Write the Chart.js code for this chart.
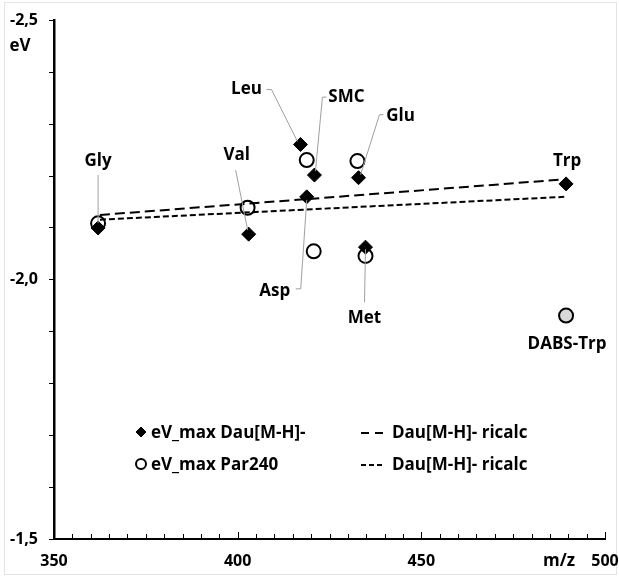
<!DOCTYPE html>
<html>
<head>
<meta charset="utf-8">
<script src="https://cdn.jsdelivr.net/npm/chart.js@4"></script>
<style>
  html, body { margin: 0; padding: 0; background: #fff; }
  #wrap { position: relative; width: 619px; height: 577px; }
</style>
</head>
<body>
<div id="wrap"><canvas id="myChart" width="619" height="577"></canvas></div>
<script>
// eV_max Dau[M-H]- (filled diamonds)
const dauNames = ['Gly', 'Val', 'Leu', 'SMC', 'Asp', 'Glu', 'Met', 'Trp'];
const dauMz = [362.0, 403.0, 417.1, 420.9, 418.8, 432.9, 434.8, 489.4];
const dauEv = [-2.100, -2.088, -2.261, -2.202, -2.160, -2.197, -2.063, -2.185];

// eV_max Par240 (open circles, last one is DABS-Trp)
const parNames = ['Gly', 'Val', 'SMC', 'Asp', 'Glu', 'Met', 'DABS-Trp'];
const parMz = [362.0, 402.7, 418.8, 420.7, 432.6, 434.8, 489.4];
const parEv = [-2.109, -2.139, -2.231, -2.055, -2.229, -2.046, -1.931];

// trend lines (Dau[M-H]- ricalc)
const trendLongMz = [362.5, 487.5];
const trendLongEv = [-2.125, -2.193];
const trendShortMz = [362.5, 488.9];
const trendShortEv = [-2.116, -2.160];

const yTickLabels = { '-2.5': '-2,5', '-2': '-2,0', '-1.5': '-1,5' };
const xTickLabels = [350, 400, 450, 500];

const legendLabels = ['eV_max Dau[M-H]-', 'eV_max Par240', 'Dau[M-H]- ricalc', 'Dau[M-H]- ricalc'];

const FONT = '"Open Sans", "Noto Sans", sans-serif';

function pts(xs, ys) {
  return xs.map(function (x, i) { return { x: x, y: ys[i] }; });
}

// point labels: anchor = dataset/index, text offset and leader line relative to the anchor pixel
const pointLabels = [
  { text: 'Gly', ds: 0, i: 0, dx: 0, dy: -67, line: [[0, -53], [0, -5]] },
  { text: 'Val', ds: 0, i: 1, dx: -12, dy: -79, line: [[-13, -64], [-1, -4]] },
  { text: 'Leu', ds: 0, i: 2, dx: -54, dy: -55, line: [[-34, -55], [-29, -55], [-3, -3]] },
  { text: 'SMC', ds: 0, i: 3, dx: 32, dy: -78, line: [[12, -78], [8, -78], [1, -4]] },
  { text: 'Glu', ds: 0, i: 5, dx: 42, dy: -62, line: [[25, -63], [21, -63], [2, -3]] },
  { text: 'Trp', ds: 0, i: 7, dx: 1, dy: -23, line: null },
  { text: 'Asp', ds: 0, i: 4, dx: -32, dy: 94, line: [[-11, 92], [-6, 92], [0, 3]] },
  { text: 'Met', ds: 0, i: 6, dx: -1, dy: 71, line: [[-1, 55], [0, 2]] },
  { text: 'DABS-Trp', ds: 1, i: 6, dx: 1, dy: 29, line: null }
];

const extras = {
  id: 'extras',
  beforeDraw: function (chart) {
    var c = chart.ctx;
    c.save();
    c.fillStyle = '#fff';
    c.fillRect(0, 0, chart.width, chart.height);
    c.strokeStyle = '#e4e4e4';
    c.lineWidth = 1;
    c.strokeRect(4.5, 2.5, 612, 572);
    c.restore();
  },
  afterDraw: function (chart) {
    var c = chart.ctx;
    var xs = chart.scales.x;
    var bottom = chart.chartArea.bottom;
    c.save();
    // inner tick marks on x axis
    c.strokeStyle = '#000';
    c.lineWidth = 1;
    xs.ticks.forEach(function (t) {
      var px = Math.round(xs.getPixelForValue(t.value)) + 0.5;
      var len = (t.value % 50 === 0) ? 7 : 5;
      c.beginPath();
      c.moveTo(px, bottom);
      c.lineTo(px, bottom - len);
      c.stroke();
    });

    // axis titles
    c.fillStyle = '#000';
    c.font = 'bold 17px ' + FONT;
    c.textAlign = 'center';
    c.textBaseline = 'middle';
    c.fillText('eV', 20, 46);
    c.fillText('m/z', 559, 561);

    // point labels with leader lines
    pointLabels.forEach(function (l) {
      var el = chart.getDatasetMeta(l.ds).data[l.i];
      var ax = el.x, ay = el.y;
      if (l.line) {
        c.strokeStyle = '#a0a0a0';
        c.lineWidth = 1;
        c.beginPath();
        l.line.forEach(function (p, k) {
          if (k === 0) c.moveTo(ax + p[0], ay + p[1]);
          else c.lineTo(ax + p[0], ay + p[1]);
        });
        c.stroke();
      }
      c.fillStyle = '#000';
      c.fillText(l.text, ax + l.dx, ay + l.dy);
    });

    // legend
    var ds = chart.data.datasets;
    c.font = 'bold 17px ' + FONT;
    c.textAlign = 'left';
    var rows = [432, 464];
    [0, 1].forEach(function (k) {
      var d = ds[k];
      var opts = { pointStyle: d.pointStyle, radius: 5, rotation: 0, borderWidth: d.borderWidth };
      c.fillStyle = k === 0 ? d.backgroundColor : '#fff';
      c.strokeStyle = d.borderColor;
      c.lineWidth = k === 0 ? 1 : 2;
      Chart.helpers.drawPoint(c, opts, 141, rows[k]);
      c.fillStyle = '#000';
      c.fillText(legendLabels[k], 151, rows[k] + 1);
    });
    [2, 3].forEach(function (k, r) {
      var d = ds[k];
      c.strokeStyle = d.borderColor;
      c.lineWidth = 2;
      c.setLineDash(k === 2 ? [8, 6] : [5, 3]);
      c.beginPath();
      c.moveTo(361, rows[r] + 1);
      c.lineTo(384, rows[r] + 1);
      c.stroke();
      c.setLineDash([]);
      c.fillStyle = '#000';
      c.fillText(legendLabels[k], 392, rows[r] + 1);
    });
    c.restore();
  }
};

const ctx = document.getElementById('myChart');
new Chart(ctx, {
  type: 'scatter',
  data: {
    datasets: [
      {
        label: legendLabels[0],
        data: pts(dauMz, dauEv),
        pointStyle: 'rectRot',
        pointRadius: 7,
        pointHoverRadius: 7,
        backgroundColor: '#000',
        borderColor: '#000',
        borderWidth: 1
      },
      {
        label: legendLabels[1],
        data: pts(parMz, parEv),
        pointStyle: 'circle',
        pointRadius: 7,
        pointHoverRadius: 7,
        backgroundColor: parNames.map(function (n) { return n === 'DABS-Trp' ? '#d9d9d9' : 'rgba(0,0,0,0)'; }),
        borderColor: '#000',
        borderWidth: 2
      },
      {
        type: 'line',
        label: legendLabels[2],
        data: pts(trendLongMz, trendLongEv),
        borderColor: '#000',
        borderWidth: 2,
        borderDash: [10, 5],
        pointRadius: 0,
        fill: false
      },
      {
        type: 'line',
        label: legendLabels[3],
        data: pts(trendShortMz, trendShortEv),
        borderColor: '#000',
        borderWidth: 2,
        borderDash: [6, 3],
        pointRadius: 0,
        fill: false
      }
    ]
  },
  options: {
    responsive: false,
    animation: false,
    events: [],
    layout: { padding: { top: 15, right: 14, left: 0, bottom: 0 } },
    plugins: {
      legend: { display: false },
      tooltip: { enabled: false }
    },
    scales: {
      x: {
        type: 'linear',
        min: 350,
        max: 500,
        afterFit: function (s) { s.height = 38; s.paddingLeft = 0; s.paddingRight = 0; },
        border: { display: true, color: '#000', width: 2 },
        grid: { drawOnChartArea: false, drawTicks: false },
        ticks: {
          stepSize: 5,
          autoSkip: false,
          maxRotation: 0,
          padding: 13,
          color: '#000',
          font: { family: FONT, size: 16, weight: 'bold' },
          callback: function (v) { return xTickLabels.indexOf(v) >= 0 ? String(v) : ''; }
        }
      },
      y: {
        type: 'linear',
        reverse: true,
        min: -2.5,
        max: -1.5,
        afterFit: function (s) { s.width = 54; },
        border: { display: true, color: '#000', width: 2.5 },
        grid: { drawOnChartArea: false, drawTicks: true, tickLength: 5, color: '#000', lineWidth: 1 },
        ticks: {
          stepSize: 0.1,
          autoSkip: false,
          padding: 11,
          color: '#000',
          font: { family: FONT, size: 16, weight: 'bold' },
          callback: function (v) {
            var key = String(Math.round(v * 10) / 10);
            return yTickLabels[key] || '';
          }
        }
      }
    }
  },
  plugins: [extras]
});
</script>
</body>
</html>
